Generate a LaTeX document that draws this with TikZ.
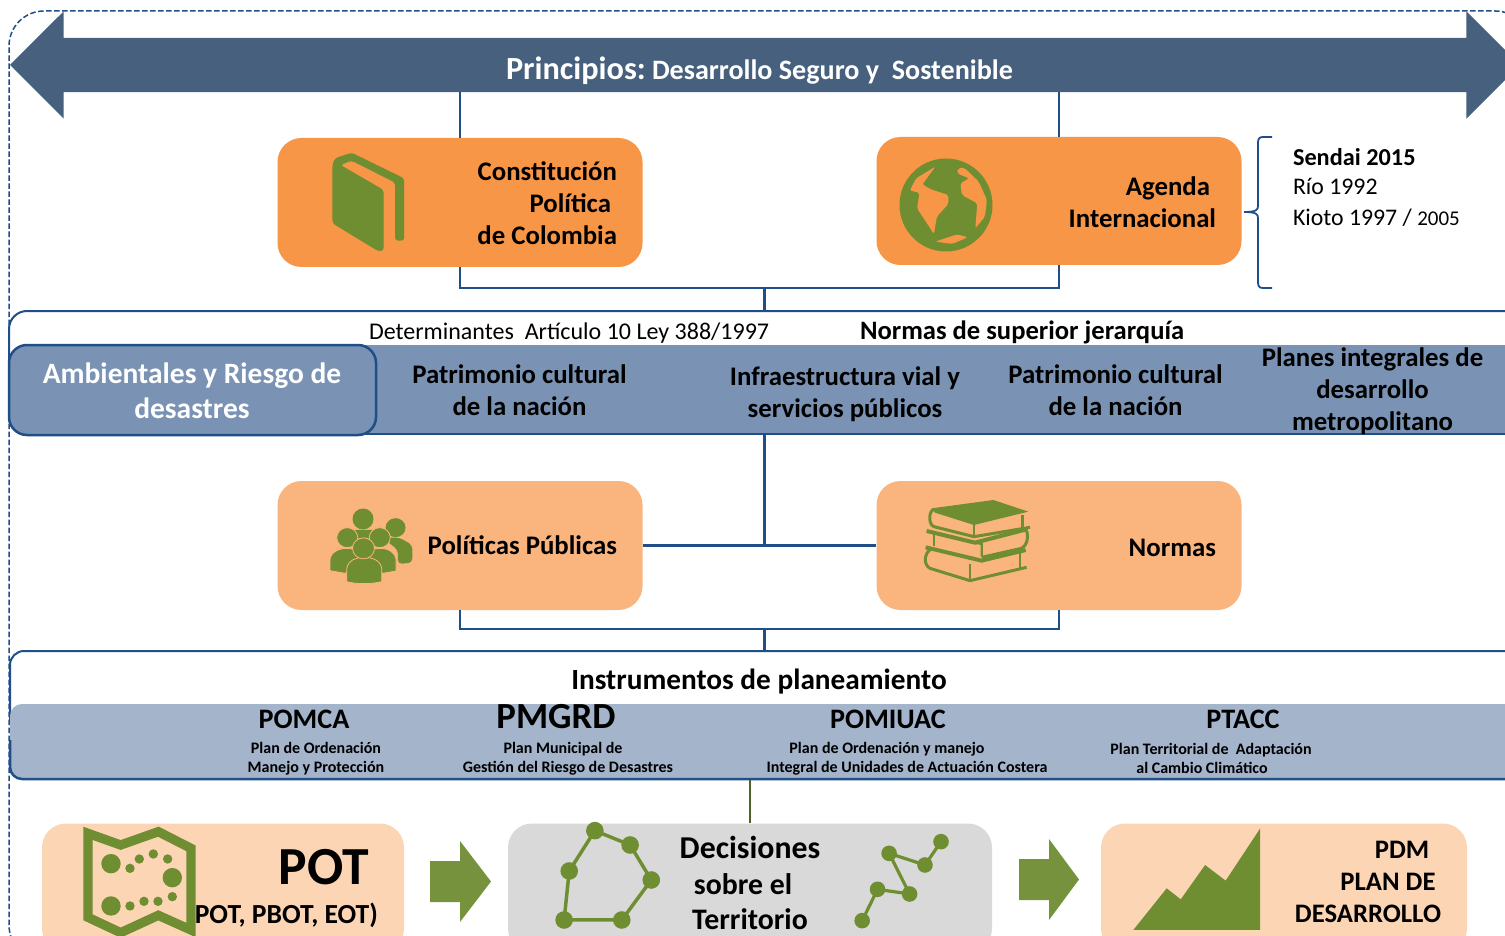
\documentclass[tikz,border=0pt]{standalone}
\usepackage{fontspec}
\setmainfont{Carlito}
\usetikzlibrary{shapes.arrows,calc}
\definecolor{navy}{HTML}{46607E}
\definecolor{linkblue}{HTML}{1F4E88}
\definecolor{orangeA}{HTML}{F79646}
\definecolor{orangeB}{HTML}{FAB57F}
\definecolor{orangeC}{HTML}{FCD5B5}
\definecolor{greyD}{HTML}{D9D9D9}
\definecolor{bandA}{HTML}{7A93B4}
\definecolor{bandB}{HTML}{A3B4CB}
\definecolor{leaf}{HTML}{6F8E32}
\definecolor{arrowgreen}{HTML}{76923C}
\definecolor{stem}{HTML}{4F6228}
\newcommand{\fsz}[2]{\fontsize{#1}{#2}\selectfont}
\tikzset{
  card/.style={rounded corners=24pt,inner sep=0pt,minimum width=365pt,minimum height=129pt,draw=none},
  link/.style={draw=linkblue,line width=2.3pt},
  label/.style={inner sep=0pt,outer sep=0pt,text=black},
  b27/.style={label,font=\fsz{26.8}{32}\bfseries},
  sub/.style={label,font=\fsz{16}{19}\bfseries,align=center},
  head/.style={label,anchor=base,font=\fsz{28.2}{32}\bfseries},
  icon/.style={fill=leaf,draw=none},
}
\begin{document}
\begin{tikzpicture}[x=1pt,y=-1pt]
\useasboundingbox (0,0) rectangle (1505,936);
\clip (0,0) rectangle (1505,936);
\fill[white] (0,0) rectangle (1505,936);

% dashed frame
\draw[linkblue,line width=1.5pt,dashed,dash pattern=on 5.5pt off 2.5pt,rounded corners=35pt] (9,960) -- (9,11) -- (1530,11) -- (1530,960) -- cycle;

% main double arrow
\node[shape=double arrow,fill=navy,draw=none,inner sep=0pt,outer sep=0pt,minimum height=1510pt,double arrow head extend=26.5pt,double arrow head indent=0pt,double arrow tip angle=90] (principios) at (765,65) {\rule{0pt}{54pt}};
\coordinate (arrowbase) at (765,92);

% panels
\draw[linkblue,line width=2pt,rounded corners=18pt] (1530,311) -- (9,311) -- (9,434) -- (60,434);
\fill[bandA] (60,345) rectangle (1530,434);
\draw[linkblue,line width=2.5pt] (40,434) -- (1530,434);
\node[rounded corners=18pt,fill=bandA,draw=linkblue,line width=2.5pt,minimum width=367pt,minimum height=90pt,inner sep=0pt] (ambientales) at (192.5,390) {};
\node[label,text=white,align=center,font=\fsz{29.5}{35}\bfseries] (tamb) at (192,390.5) {Ambientales y Riesgo de\\desastres};

\draw[linkblue,line width=2pt,rounded corners=14pt] (1530,651) -- (10,651) -- (10,720);
\draw[fill=bandB,draw=none,rounded corners=12pt] (10,704) -- (1530,704) -- (1530,779) -- (10,779) -- cycle;
\draw[linkblue,line width=2.5pt,rounded corners=12pt] (10,740) -- (10,779) -- (1530,779);
\coordinate (bandtwo) at (750,780);

% cards
\node[card,fill=orangeA] (constitucion) at (460,202.5) {};
\node[card,fill=orangeA,minimum height=128pt] (agenda) at (1059,201) {};
\node[card,fill=orangeB] (politicas) at (460,545.5) {};
\node[card,fill=orangeB] (normas) at (1059,545.5) {};
\node[card,fill=orangeC,minimum width=362pt] (pot) at (223,888) {};
\node[card,fill=greyD,minimum width=484pt] (decisiones) at (750,888) {};
\node[card,fill=orangeC,minimum width=366pt] (pdm) at (1284,888) {};

% connectors
\coordinate (j1) at (764.5,288);
\coordinate (j2) at (764.5,629);
\coordinate (j3) at (764.5,545.5);
\coordinate (pan1) at (764.5,311);
\coordinate (pan2) at (764.5,434);
\coordinate (pan3) at (764.5,651);
\draw[link,line width=2pt] (constitucion.north) -- (constitucion.north |- arrowbase);
\draw[link,line width=2pt] (agenda.north) -- (agenda.north |- arrowbase);
\draw[link] (constitucion.south) |- (j1) -| (agenda.south);
\draw[link] (j1) -- (pan1);
\draw[link] (pan2) -- (j3);
\draw[link] (politicas.east) -- (normas.west);
\draw[link] (politicas.south) |- (j2) -| (normas.south);
\draw[link] (j2) -- (pan3);
\draw[stem,line width=2pt] (bandtwo) -- (decisiones.north);

% brace
\draw[linkblue,line width=1.8pt,line join=round] (1272,137) -- (1263,137) .. controls (1259,137) and (1258,139) .. (1258,143) -- (1258,206) .. controls (1258,210) and (1256,212) .. (1244,212);
\draw[linkblue,line width=1.8pt,line join=round] (1244,212) .. controls (1256,212) and (1258,214) .. (1258,218) -- (1258,282) .. controls (1258,286) and (1259,288) .. (1263,288) -- (1272,288);

% book icon
\begin{scope}[x=.4783pt,y=-.3333pt]
\fill[leaf,rounded corners=3pt] (695,495) -- (700,475) -- (735,458) -- (845,535) -- (845,722) -- (826,722) -- (826,548) -- (735,482) -- (712,495) -- (802,570) -- (802,753) -- (790,753) -- (695,670) -- cycle;
\end{scope}

% globe icon
\fill[leaf] (946,205) circle[radius=46.5pt];
\begin{scope}[shift={(750,0)},x=.4815pt,y=-.3333pt]
\fill[orangeA,rounded corners=2pt] (385,500) -- (345,535) -- (332,572) -- (352,578) -- (347,625) -- (382,702) -- (388,650) -- (412,612) -- (412,585) -- (375,568) -- (358,553) -- cycle;
\fill[orangeA,rounded corners=2pt] (432,505) -- (445,503) -- (475,545) -- (492,600) -- (488,650) -- (468,685) -- (472,610) -- (440,585) -- (437,550) -- (455,535) -- (430,520) -- cycle;
\fill[orangeA,rounded corners=2pt] (385,725) -- (430,703) -- (452,712) -- (420,732) -- cycle;
\end{scope}

% people icon
\begin{scope}[shift={(0,470)},x=.4783pt,y=-.3333pt]
\fill[leaf] (735,180) -- (785,180) -- (800,230) -- (720,230) -- cycle;
\fill[leaf] (759,147) ellipse[x radius=10.5pt,y radius=10.5pt];
\fill[leaf,rounded corners=4pt] (800,203) -- (835,203) -- (862,225) -- (862,278) -- (832,282) -- (832,240) -- cycle;
\fill[leaf] (827,173) ellipse[x radius=10pt,y radius=9.5pt];
\fill[leaf,draw=orangeB,line width=.8pt] (690,302) -- (690,268) .. controls (692,245) and (710,235) .. (726,235) .. controls (740,235) and (755,245) .. (760,262) -- (722,310) -- cycle;
\fill[leaf,draw=orangeB,line width=.8pt] (828,303) -- (828,268) .. controls (826,245) and (810,235) .. (794,235) .. controls (780,235) and (765,245) .. (760,262) -- (800,310) -- cycle;
\fill[leaf,draw=orangeB,line width=.8pt] (794,203) ellipse[x radius=10.5pt,y radius=10pt];
\fill[leaf,draw=orangeB,line width=.8pt] (726,203) ellipse[x radius=10.5pt,y radius=10pt];
\fill[leaf,draw=orangeB,line width=.8pt] (725,335) -- (725,295) .. controls (728,270) and (745,262) .. (760,262) .. controls (778,262) and (795,270) .. (798,295) -- (798,335) .. controls (775,343) and (745,343) .. (725,335) -- cycle;
\fill[leaf,draw=orangeB,line width=.8pt] (760,235) ellipse[x radius=11pt,y radius=10.5pt];
\end{scope}

% books icon
\begin{scope}[shift={(860,470)},x=.3333pt,y=-.3333pt]
\fill[leaf] (215,115) -- (400,90) -- (505,125) -- (342,165) -- (225,128) -- cycle;
\draw[leaf,line width=3pt,line join=round] (222,118) .. controls (205,122) and (205,165) .. (222,170) -- (342,200) -- (510,172);
\draw[leaf,line width=2pt] (342,165) -- (342,200);
\draw[leaf,line width=2.4pt] (488,135) -- (488,175);
\draw[leaf,line width=4pt,line join=round] (200,183) -- (345,218) -- (500,178);
\draw[leaf,line width=2.6pt,line join=round] (222,190) -- (222,228);
\draw[leaf,line width=2.2pt] (345,218) -- (365,222) -- (365,260);
\draw[leaf,line width=3pt,line join=round] (498,178) .. controls (508,200) and (500,228) .. (485,235) -- (365,262);
\draw[leaf,line width=4pt,line join=round] (197,232) -- (365,272) -- (497,240);
\draw[leaf,line width=3pt,line join=round] (212,238) .. controls (192,250) and (190,285) .. (210,295) -- (330,332) -- (500,292);
\draw[leaf,line width=2.2pt] (330,282) -- (330,332);
\draw[leaf,line width=2.4pt] (480,248) -- (480,295);
\end{scope}

% map icon
\begin{scope}[shift={(0,780)},x=.3333pt,y=-.3333pt]
\begin{scope}
\clip (240,120) rectangle (587,500);
\draw[leaf,line width=9.3pt,miter limit=10] (264,160) -- (362,195) -- (475,155) -- (573,205) -- (573,450) -- (475,406) -- (362,458) -- (264,412) -- cycle;
\end{scope}
\foreach \cx/\cy in {333/251,517/293,333/378}{\fill[leaf] (\cx,\cy) circle[radius=9.7pt];}
\foreach \cx/\cy in {390/265,418/237,460/222,503/237,390/378,432/364,474/364,517/350}{\fill[leaf] (\cx,\cy) circle[radius=4.7pt];}
\end{scope}

% network icons
\begin{scope}[shift={(500,780)},x=.641pt,y=-.3333pt]
\draw[leaf,line width=3.5pt] (148,152) -- (203,195) -- (236,300) -- (190,420) -- (100,420) -- (108,273) -- cycle;
\foreach \cx/\cy in {148/152,203/195,236/300,190/420,100/420,108/273}{\fill[leaf] (\cx,\cy) circle[radius=8.8pt];}
\draw[leaf,line width=3.2pt] (565,422) -- (589,328) -- (639,342) -- (607,220) -- (663,255) -- (688,185);
\foreach \cx/\cy in {565/422,589/328,639/342,607/220,663/255,688/185}{\fill[leaf] (\cx,\cy) circle[radius=7.8pt];}
\fill[leaf] (988,450) -- (1040,325) -- (1062,358) -- (1100,255) -- (1132,302) -- (1186,145) -- (1186,450) -- cycle;
\end{scope}

% green arrows
\fill[arrowgreen] (430,861) -- (460,861) -- (460,841) -- (491,881.5) -- (460,922) -- (460,902) -- (430,902) -- cycle;
\fill[arrowgreen] (1019,859) -- (1049,859) -- (1049,839) -- (1079,879.5) -- (1049,920) -- (1049,900) -- (1019,900) -- cycle;

% texts
\node[label,text=white,anchor=base west,font=\fsz{32.3}{36}\bfseries] (t0a) at (506,80) {Principios:};
\node[label,text=white,anchor=base west,font=\fsz{28.1}{32}\bfseries] (t0b) at (652,80) {Desarrollo Seguro y\ \ Sostenible};
\node[b27,align=right,anchor=east] (t1) at (617,203.5) {Constitución\\\mbox{Política\kern6pt}\\de Colombia};
\node[b27,align=right,anchor=east] (t2) at (1216,202) {\mbox{Agenda\kern6pt}\\Internacional};
\node[label,anchor=base west,font=\fsz{24.3}{28}\bfseries] (t3) at (1293,166) {Sendai 2015};
\node[label,anchor=base west,font=\fsz{23.8}{28}] (t4) at (1293,195) {Río 1992};
\node[label,anchor=base west,font=\fsz{23.8}{28}] (t5) at (1293,226) {Kioto 1997 / {\fsz{21}{28}2005}};
\node[label,anchor=base west,font=\fsz{24}{28}] (t6) at (369,339) {Determinantes\ \ Artículo 10 Ley 388/1997};
\node[label,anchor=base west,font=\fsz{26.6}{32}\bfseries] (t7) at (860,339) {Normas de superior jerarquía};
\node[b27,align=center] (t8) at (519.5,390) {Patrimonio cultural\\de la nación};
\node[b27,align=center] (t9) at (845,394) {Infraestructura vial y\\servicios públicos};
\node[b27,align=center] (t10) at (1115.5,390) {Patrimonio cultural\\de la nación};
\node[b27,align=center] (t11) at (1372.5,391) {Planes integrales de\\desarrollo\\metropolitano};
\node[b27,anchor=base east] (t12) at (617,554) {Políticas Públicas};
\node[b27,anchor=base east] (t13) at (1216,556) {Normas};
\node[label,anchor=base,font=\fsz{29.3}{34}\bfseries] (t14) at (759,689) {Instrumentos de planeamiento};
\node[head] (t15) at (304,728) {POMCA};
\node[label,anchor=base,font=\fsz{36.8}{40}\bfseries] (t16) at (556,728) {PMGRD};
\node[head] (t17) at (888,728) {POMIUAC};
\node[head] (t18) at (1243,728) {PTACC};
\node[sub] (t19) at (316,758.5) {Plan de Ordenación\\Manejo y Protección};
\node[sub] (t20) at (568,758.5) {Plan Municipal de\hspace*{10pt}\\Gestión del Riesgo de Desastres};
\node[sub] (t21) at (907,758.5) {Plan de Ordenación y manejo\hspace*{40pt}\\Integral de Unidades de Actuación Costera};
\node[sub] (t22) at (1211,758.5) {Plan Territorial de\ \ Adaptación\\al Cambio Climático\hspace*{18pt}};
\node[label,anchor=base,font=\fsz{53.6}{58}\bfseries] (t23) at (324,884) {POT};
\node[label,anchor=base east,font=\fsz{27.6}{32}\bfseries] (t24) at (378,923) {POT, PBOT, EOT)};
\node[label,anchor=base,font=\fsz{31.8}{36}\bfseries] (t25a) at (750,858) {Decisiones};
\node[label,anchor=base,font=\fsz{29.8}{36}\bfseries] (t25b) at (743,894) {sobre el};
\node[label,anchor=base,font=\fsz{29.8}{36}\bfseries] (t25c) at (750,929) {Territorio};
\node[label,align=center,font=\fsz{26.7}{32}\bfseries] (t26) at (1368,882) {\hspace*{68pt}PDM\\\hspace*{40pt}PLAN DE\\DESARROLLO};
\end{tikzpicture}
\end{document}
